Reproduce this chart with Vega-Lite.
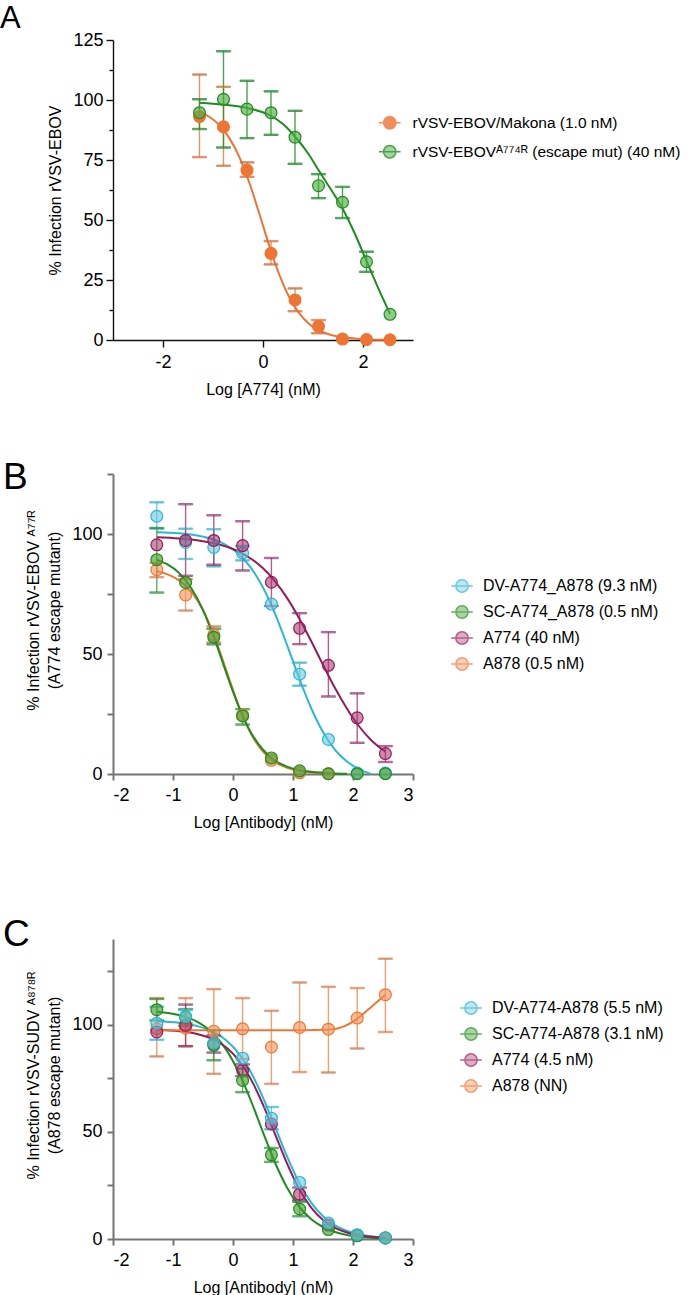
{
  "$schema": "https://vega.github.io/schema/vega-lite/v6.json",
  "padding": {"top": 3, "left": 0, "right": 2, "bottom": 2},
  "background": "white",
  "config": {
    "font": "Liberation Sans",
    "view": {"stroke": null},
    "axis": {"grid": false, "labelFontSize": 18, "titleFontSize": 16, "titleFontWeight": "normal", "labelColor": "black", "titleColor": "black", "labelFont": "Liberation Sans", "titleFont": "Liberation Sans"},
    "legend": {"labelFontSize": 16, "labelColor": "black", "labelFont": "Liberation Sans", "labelLimit": 400},
    "title": {"font": "Liberation Sans", "fontWeight": "normal", "color": "black"}
  },
  "datasets": {
    "ptsA": [
      {"s": "rVSV-EBOV/Makona (1.0 nM)", "x": -1.27, "y": 93.1, "lo": 76.2, "hi": 110.6},
      {"s": "rVSV-EBOV/Makona (1.0 nM)", "x": -0.79, "y": 88.8, "lo": 72.6, "hi": 105.5},
      {"s": "rVSV-EBOV/Makona (1.0 nM)", "x": -0.32, "y": 70.8, "lo": 68.0, "hi": 74.0},
      {"s": "rVSV-EBOV/Makona (1.0 nM)", "x": 0.16, "y": 36.1, "lo": 31.5, "hi": 41.2},
      {"s": "rVSV-EBOV/Makona (1.0 nM)", "x": 0.64, "y": 16.7, "lo": 12.0, "hi": 21.5},
      {"s": "rVSV-EBOV/Makona (1.0 nM)", "x": 1.11, "y": 5.7, "lo": 2.8, "hi": 8.3},
      {"s": "rVSV-EBOV/Makona (1.0 nM)", "x": 1.59, "y": 0.4, "lo": null, "hi": null},
      {"s": "rVSV-EBOV/Makona (1.0 nM)", "x": 2.07, "y": 0.2, "lo": null, "hi": null},
      {"s": "rVSV-EBOV/Makona (1.0 nM)", "x": 2.54, "y": 0.1, "lo": null, "hi": null},
      {"s": "rVSV-EBOVᴬ⁷⁷⁴ᴿ (escape mut) (40 nM)", "x": -1.27, "y": 94.7, "lo": 87.9, "hi": 100.3},
      {"s": "rVSV-EBOVᴬ⁷⁷⁴ᴿ (escape mut) (40 nM)", "x": -0.79, "y": 100.3, "lo": 80.2, "hi": 120.3},
      {"s": "rVSV-EBOVᴬ⁷⁷⁴ᴿ (escape mut) (40 nM)", "x": -0.32, "y": 96.2, "lo": 84.1, "hi": 108.0},
      {"s": "rVSV-EBOVᴬ⁷⁷⁴ᴿ (escape mut) (40 nM)", "x": 0.16, "y": 94.7, "lo": 85.5, "hi": 103.6},
      {"s": "rVSV-EBOVᴬ⁷⁷⁴ᴿ (escape mut) (40 nM)", "x": 0.64, "y": 84.5, "lo": 73.4, "hi": 95.5},
      {"s": "rVSV-EBOVᴬ⁷⁷⁴ᴿ (escape mut) (40 nM)", "x": 1.11, "y": 64.3, "lo": 59.1, "hi": 69.1},
      {"s": "rVSV-EBOVᴬ⁷⁷⁴ᴿ (escape mut) (40 nM)", "x": 1.59, "y": 57.4, "lo": 50.8, "hi": 63.8},
      {"s": "rVSV-EBOVᴬ⁷⁷⁴ᴿ (escape mut) (40 nM)", "x": 2.07, "y": 32.6, "lo": 28.4, "hi": 36.8},
      {"s": "rVSV-EBOVᴬ⁷⁷⁴ᴿ (escape mut) (40 nM)", "x": 2.54, "y": 10.7, "lo": null, "hi": null}
    ],
    "crvA": [
      {"s": "rVSV-EBOV/Makona (1.0 nM)", "x": -1.27, "y": 95.0},
      {"s": "rVSV-EBOV/Makona (1.0 nM)", "x": -1.07, "y": 92.9},
      {"s": "rVSV-EBOV/Makona (1.0 nM)", "x": -0.87, "y": 89.5},
      {"s": "rVSV-EBOV/Makona (1.0 nM)", "x": -0.67, "y": 84.0},
      {"s": "rVSV-EBOV/Makona (1.0 nM)", "x": -0.47, "y": 76.1},
      {"s": "rVSV-EBOV/Makona (1.0 nM)", "x": -0.27, "y": 65.3},
      {"s": "rVSV-EBOV/Makona (1.0 nM)", "x": -0.07, "y": 52.4},
      {"s": "rVSV-EBOV/Makona (1.0 nM)", "x": 0.13, "y": 39.0},
      {"s": "rVSV-EBOV/Makona (1.0 nM)", "x": 0.33, "y": 27.0},
      {"s": "rVSV-EBOV/Makona (1.0 nM)", "x": 0.53, "y": 17.6},
      {"s": "rVSV-EBOV/Makona (1.0 nM)", "x": 0.73, "y": 11.0},
      {"s": "rVSV-EBOV/Makona (1.0 nM)", "x": 0.93, "y": 6.6},
      {"s": "rVSV-EBOV/Makona (1.0 nM)", "x": 1.13, "y": 3.9},
      {"s": "rVSV-EBOV/Makona (1.0 nM)", "x": 1.33, "y": 2.3},
      {"s": "rVSV-EBOV/Makona (1.0 nM)", "x": 1.53, "y": 1.3},
      {"s": "rVSV-EBOV/Makona (1.0 nM)", "x": 1.73, "y": 0.8},
      {"s": "rVSV-EBOV/Makona (1.0 nM)", "x": 1.93, "y": 0.4},
      {"s": "rVSV-EBOV/Makona (1.0 nM)", "x": 2.13, "y": 0.2},
      {"s": "rVSV-EBOV/Makona (1.0 nM)", "x": 2.33, "y": 0.1},
      {"s": "rVSV-EBOV/Makona (1.0 nM)", "x": 2.54, "y": 0.1},
      {"s": "rVSV-EBOVᴬ⁷⁷⁴ᴿ (escape mut) (40 nM)", "x": -1.27, "y": 98.9},
      {"s": "rVSV-EBOVᴬ⁷⁷⁴ᴿ (escape mut) (40 nM)", "x": -0.8, "y": 98.1},
      {"s": "rVSV-EBOVᴬ⁷⁷⁴ᴿ (escape mut) (40 nM)", "x": -0.3, "y": 96.6},
      {"s": "rVSV-EBOVᴬ⁷⁷⁴ᴿ (escape mut) (40 nM)", "x": 0.1, "y": 94.0},
      {"s": "rVSV-EBOVᴬ⁷⁷⁴ᴿ (escape mut) (40 nM)", "x": 0.4, "y": 90.0},
      {"s": "rVSV-EBOVᴬ⁷⁷⁴ᴿ (escape mut) (40 nM)", "x": 0.64, "y": 84.8},
      {"s": "rVSV-EBOVᴬ⁷⁷⁴ᴿ (escape mut) (40 nM)", "x": 0.9, "y": 77.8},
      {"s": "rVSV-EBOVᴬ⁷⁷⁴ᴿ (escape mut) (40 nM)", "x": 1.11, "y": 70.8},
      {"s": "rVSV-EBOVᴬ⁷⁷⁴ᴿ (escape mut) (40 nM)", "x": 1.35, "y": 63.0},
      {"s": "rVSV-EBOVᴬ⁷⁷⁴ᴿ (escape mut) (40 nM)", "x": 1.59, "y": 54.8},
      {"s": "rVSV-EBOVᴬ⁷⁷⁴ᴿ (escape mut) (40 nM)", "x": 1.83, "y": 44.6},
      {"s": "rVSV-EBOVᴬ⁷⁷⁴ᴿ (escape mut) (40 nM)", "x": 2.07, "y": 33.0},
      {"s": "rVSV-EBOVᴬ⁷⁷⁴ᴿ (escape mut) (40 nM)", "x": 2.3, "y": 21.8},
      {"s": "rVSV-EBOVᴬ⁷⁷⁴ᴿ (escape mut) (40 nM)", "x": 2.54, "y": 10.9}
    ],
    "ptsB": [
      {"s": "DV-A774_A878 (9.3 nM)", "x": -1.27, "y": 107.4, "lo": 102.3, "hi": 113.2},
      {"s": "DV-A774_A878 (9.3 nM)", "x": -0.79, "y": 96.5, "lo": 89.6, "hi": 102.2},
      {"s": "DV-A774_A878 (9.3 nM)", "x": -0.32, "y": 94.4, "lo": 86.5, "hi": 102.0},
      {"s": "DV-A774_A878 (9.3 nM)", "x": 0.16, "y": 92.1, "lo": 89.0, "hi": 95.0},
      {"s": "DV-A774_A878 (9.3 nM)", "x": 0.64, "y": 70.8, "lo": null, "hi": null},
      {"s": "DV-A774_A878 (9.3 nM)", "x": 1.11, "y": 41.6, "lo": 36.8, "hi": 46.4},
      {"s": "DV-A774_A878 (9.3 nM)", "x": 1.59, "y": 14.4, "lo": null, "hi": null},
      {"s": "DV-A774_A878 (9.3 nM)", "x": 2.07, "y": 0.4, "lo": null, "hi": null},
      {"s": "DV-A774_A878 (9.3 nM)", "x": 2.54, "y": 0.4, "lo": null, "hi": null},
      {"s": "A878 (0.5 nM)", "x": -1.27, "y": 85.1, "lo": 82.0, "hi": 88.0},
      {"s": "A878 (0.5 nM)", "x": -0.79, "y": 74.6, "lo": 68.1, "hi": 81.2},
      {"s": "A878 (0.5 nM)", "x": -0.32, "y": 58.0, "lo": 54.8, "hi": 61.5},
      {"s": "A878 (0.5 nM)", "x": 0.16, "y": 24.5, "lo": null, "hi": null},
      {"s": "A878 (0.5 nM)", "x": 0.64, "y": 5.7, "lo": null, "hi": null},
      {"s": "A878 (0.5 nM)", "x": 1.11, "y": 0.5, "lo": null, "hi": null},
      {"s": "A878 (0.5 nM)", "x": 1.59, "y": 0.1, "lo": null, "hi": null},
      {"s": "SC-A774_A878 (0.5 nM)", "x": -1.27, "y": 89.3, "lo": 75.6, "hi": 102.5},
      {"s": "SC-A774_A878 (0.5 nM)", "x": -0.79, "y": 79.8, "lo": null, "hi": null},
      {"s": "SC-A774_A878 (0.5 nM)", "x": -0.32, "y": 57.0, "lo": 54.0, "hi": 60.5},
      {"s": "SC-A774_A878 (0.5 nM)", "x": 0.16, "y": 24.2, "lo": 20.6, "hi": 27.0},
      {"s": "SC-A774_A878 (0.5 nM)", "x": 0.64, "y": 6.7, "lo": null, "hi": null},
      {"s": "SC-A774_A878 (0.5 nM)", "x": 1.11, "y": 1.3, "lo": null, "hi": null},
      {"s": "SC-A774_A878 (0.5 nM)", "x": 1.59, "y": 0.1, "lo": null, "hi": null},
      {"s": "SC-A774_A878 (0.5 nM)", "x": 2.07, "y": 0.1, "lo": null, "hi": null},
      {"s": "SC-A774_A878 (0.5 nM)", "x": 2.54, "y": 0.1, "lo": null, "hi": null},
      {"s": "A774 (40 nM)", "x": -1.27, "y": 95.5, "lo": null, "hi": null},
      {"s": "A774 (40 nM)", "x": -0.79, "y": 97.3, "lo": 82.6, "hi": 112.4},
      {"s": "A774 (40 nM)", "x": -0.32, "y": 97.3, "lo": 87.2, "hi": 107.8},
      {"s": "A774 (40 nM)", "x": 0.16, "y": 95.2, "lo": 84.8, "hi": 105.3},
      {"s": "A774 (40 nM)", "x": 0.64, "y": 79.9, "lo": 70.0, "hi": 90.0},
      {"s": "A774 (40 nM)", "x": 1.11, "y": 60.7, "lo": 54.1, "hi": 67.0},
      {"s": "A774 (40 nM)", "x": 1.59, "y": 45.3, "lo": 32.3, "hi": 59.1},
      {"s": "A774 (40 nM)", "x": 2.07, "y": 23.4, "lo": 13.0, "hi": 33.6},
      {"s": "A774 (40 nM)", "x": 2.54, "y": 8.5, "lo": 5.0, "hi": 11.6}
    ],
    "crvB": [
      {"s": "DV-A774_A878 (9.3 nM)", "x": -1.27, "y": 100.7},
      {"s": "DV-A774_A878 (9.3 nM)", "x": -0.9, "y": 100.3},
      {"s": "DV-A774_A878 (9.3 nM)", "x": -0.5, "y": 98.9},
      {"s": "DV-A774_A878 (9.3 nM)", "x": -0.2, "y": 96.5},
      {"s": "DV-A774_A878 (9.3 nM)", "x": 0.1, "y": 91.5},
      {"s": "DV-A774_A878 (9.3 nM)", "x": 0.3, "y": 85.9},
      {"s": "DV-A774_A878 (9.3 nM)", "x": 0.5, "y": 77.7},
      {"s": "DV-A774_A878 (9.3 nM)", "x": 0.7, "y": 66.8},
      {"s": "DV-A774_A878 (9.3 nM)", "x": 0.9, "y": 53.8},
      {"s": "DV-A774_A878 (9.3 nM)", "x": 1.1, "y": 40.1},
      {"s": "DV-A774_A878 (9.3 nM)", "x": 1.3, "y": 27.6},
      {"s": "DV-A774_A878 (9.3 nM)", "x": 1.5, "y": 17.5},
      {"s": "DV-A774_A878 (9.3 nM)", "x": 1.7, "y": 10.1},
      {"s": "DV-A774_A878 (9.3 nM)", "x": 1.9, "y": 5.2},
      {"s": "DV-A774_A878 (9.3 nM)", "x": 2.1, "y": 2.0},
      {"s": "DV-A774_A878 (9.3 nM)", "x": 2.3, "y": 0.0},
      {"s": "A878 (0.5 nM)", "x": -1.27, "y": 84.5},
      {"s": "A878 (0.5 nM)", "x": -1.1, "y": 83.3},
      {"s": "A878 (0.5 nM)", "x": -0.9, "y": 80.7},
      {"s": "A878 (0.5 nM)", "x": -0.7, "y": 76.1},
      {"s": "A878 (0.5 nM)", "x": -0.5, "y": 68.3},
      {"s": "A878 (0.5 nM)", "x": -0.3, "y": 56.6},
      {"s": "A878 (0.5 nM)", "x": -0.1, "y": 42.3},
      {"s": "A878 (0.5 nM)", "x": 0.1, "y": 28.1},
      {"s": "A878 (0.5 nM)", "x": 0.3, "y": 16.8},
      {"s": "A878 (0.5 nM)", "x": 0.5, "y": 9.3},
      {"s": "A878 (0.5 nM)", "x": 0.7, "y": 4.9},
      {"s": "A878 (0.5 nM)", "x": 0.9, "y": 2.6},
      {"s": "A878 (0.5 nM)", "x": 1.1, "y": 1.3},
      {"s": "A878 (0.5 nM)", "x": 1.3, "y": 0.6},
      {"s": "A878 (0.5 nM)", "x": 1.5, "y": 0.3},
      {"s": "A878 (0.5 nM)", "x": 1.7, "y": 0.1},
      {"s": "SC-A774_A878 (0.5 nM)", "x": -1.27, "y": 89.3},
      {"s": "SC-A774_A878 (0.5 nM)", "x": -1.1, "y": 87.4},
      {"s": "SC-A774_A878 (0.5 nM)", "x": -0.9, "y": 83.8},
      {"s": "SC-A774_A878 (0.5 nM)", "x": -0.7, "y": 77.6},
      {"s": "SC-A774_A878 (0.5 nM)", "x": -0.5, "y": 68.3},
      {"s": "SC-A774_A878 (0.5 nM)", "x": -0.3, "y": 55.7},
      {"s": "SC-A774_A878 (0.5 nM)", "x": -0.1, "y": 41.3},
      {"s": "SC-A774_A878 (0.5 nM)", "x": 0.1, "y": 27.8},
      {"s": "SC-A774_A878 (0.5 nM)", "x": 0.3, "y": 17.2},
      {"s": "SC-A774_A878 (0.5 nM)", "x": 0.5, "y": 10.1},
      {"s": "SC-A774_A878 (0.5 nM)", "x": 0.7, "y": 5.6},
      {"s": "SC-A774_A878 (0.5 nM)", "x": 0.9, "y": 3.1},
      {"s": "SC-A774_A878 (0.5 nM)", "x": 1.1, "y": 1.7},
      {"s": "SC-A774_A878 (0.5 nM)", "x": 1.3, "y": 0.9},
      {"s": "SC-A774_A878 (0.5 nM)", "x": 1.5, "y": 0.5},
      {"s": "SC-A774_A878 (0.5 nM)", "x": 1.7, "y": 0.2},
      {"s": "SC-A774_A878 (0.5 nM)", "x": 1.9, "y": 0.1},
      {"s": "A774 (40 nM)", "x": -1.27, "y": 98.6},
      {"s": "A774 (40 nM)", "x": -0.9, "y": 98.1},
      {"s": "A774 (40 nM)", "x": -0.5, "y": 97.0},
      {"s": "A774 (40 nM)", "x": -0.2, "y": 95.4},
      {"s": "A774 (40 nM)", "x": 0.1, "y": 92.6},
      {"s": "A774 (40 nM)", "x": 0.3, "y": 89.7},
      {"s": "A774 (40 nM)", "x": 0.5, "y": 85.7},
      {"s": "A774 (40 nM)", "x": 0.7, "y": 80.3},
      {"s": "A774 (40 nM)", "x": 0.9, "y": 73.4},
      {"s": "A774 (40 nM)", "x": 1.1, "y": 65.0},
      {"s": "A774 (40 nM)", "x": 1.3, "y": 55.5},
      {"s": "A774 (40 nM)", "x": 1.5, "y": 45.5},
      {"s": "A774 (40 nM)", "x": 1.7, "y": 35.8},
      {"s": "A774 (40 nM)", "x": 1.9, "y": 27.2},
      {"s": "A774 (40 nM)", "x": 2.1, "y": 19.9},
      {"s": "A774 (40 nM)", "x": 2.3, "y": 14.2},
      {"s": "A774 (40 nM)", "x": 2.54, "y": 9.3}
    ],
    "ptsC": [
      {"s": "A878 (NN)", "x": -1.27, "y": 98.1, "lo": 85.2, "hi": 112.4},
      {"s": "A878 (NN)", "x": -0.79, "y": 98.4, "lo": 89.9, "hi": 112.4},
      {"s": "A878 (NN)", "x": -0.32, "y": 97.0, "lo": 77.1, "hi": 116.6},
      {"s": "A878 (NN)", "x": 0.16, "y": 98.1, "lo": 84.0, "hi": 112.4},
      {"s": "A878 (NN)", "x": 0.64, "y": 89.6, "lo": 72.4, "hi": 106.5},
      {"s": "A878 (NN)", "x": 1.11, "y": 98.7, "lo": 77.9, "hi": 119.7},
      {"s": "A878 (NN)", "x": 1.59, "y": 97.9, "lo": 77.7, "hi": 117.7},
      {"s": "A878 (NN)", "x": 2.07, "y": 103.1, "lo": 88.9, "hi": 117.1},
      {"s": "A878 (NN)", "x": 2.54, "y": 114.0, "lo": 96.6, "hi": 130.8},
      {"s": "A774 (4.5 nM)", "x": -1.27, "y": 96.6, "lo": null, "hi": null},
      {"s": "A774 (4.5 nM)", "x": -0.79, "y": 99.7, "lo": 90.0, "hi": 109.4},
      {"s": "A774 (4.5 nM)", "x": -0.32, "y": 91.0, "lo": 87.0, "hi": 95.0},
      {"s": "A774 (4.5 nM)", "x": 0.16, "y": 78.7, "lo": 76.0, "hi": 81.5},
      {"s": "A774 (4.5 nM)", "x": 0.64, "y": 53.7, "lo": null, "hi": null},
      {"s": "A774 (4.5 nM)", "x": 1.11, "y": 20.9, "lo": 18.0, "hi": 24.0},
      {"s": "A774 (4.5 nM)", "x": 1.59, "y": 6.5, "lo": null, "hi": null},
      {"s": "A774 (4.5 nM)", "x": 2.07, "y": 1.8, "lo": null, "hi": null},
      {"s": "A774 (4.5 nM)", "x": 2.54, "y": 0.5, "lo": null, "hi": null},
      {"s": "SC-A774-A878 (3.1 nM)", "x": -1.27, "y": 107.0, "lo": 102.0, "hi": 112.0},
      {"s": "SC-A774-A878 (3.1 nM)", "x": -0.79, "y": 103.5, "lo": 99.5, "hi": 107.3},
      {"s": "SC-A774-A878 (3.1 nM)", "x": -0.32, "y": 90.4, "lo": 83.4, "hi": 97.4},
      {"s": "SC-A774-A878 (3.1 nM)", "x": 0.16, "y": 74.0, "lo": 68.5, "hi": 79.5},
      {"s": "SC-A774-A878 (3.1 nM)", "x": 0.64, "y": 39.3, "lo": 36.0, "hi": 42.5},
      {"s": "SC-A774-A878 (3.1 nM)", "x": 1.11, "y": 14.0, "lo": 10.6, "hi": 17.4},
      {"s": "SC-A774-A878 (3.1 nM)", "x": 1.59, "y": 4.4, "lo": null, "hi": null},
      {"s": "SC-A774-A878 (3.1 nM)", "x": 2.07, "y": 1.5, "lo": null, "hi": null},
      {"s": "SC-A774-A878 (3.1 nM)", "x": 2.54, "y": 0.5, "lo": null, "hi": null},
      {"s": "DV-A774-A878 (5.5 nM)", "x": -1.27, "y": 100.7, "lo": 93.0, "hi": 108.4},
      {"s": "DV-A774-A878 (5.5 nM)", "x": -0.79, "y": 103.8, "lo": 100.8, "hi": 106.8},
      {"s": "DV-A774-A878 (5.5 nM)", "x": -0.32, "y": 91.4, "lo": null, "hi": null},
      {"s": "DV-A774-A878 (5.5 nM)", "x": 0.16, "y": 84.4, "lo": null, "hi": null},
      {"s": "DV-A774-A878 (5.5 nM)", "x": 0.64, "y": 56.4, "lo": 51.2, "hi": 61.6},
      {"s": "DV-A774-A878 (5.5 nM)", "x": 1.11, "y": 26.4, "lo": null, "hi": null},
      {"s": "DV-A774-A878 (5.5 nM)", "x": 1.59, "y": 7.5, "lo": null, "hi": null},
      {"s": "DV-A774-A878 (5.5 nM)", "x": 2.07, "y": 2.0, "lo": null, "hi": null},
      {"s": "DV-A774-A878 (5.5 nM)", "x": 2.54, "y": 0.5, "lo": null, "hi": null}
    ],
    "crvC": [
      {"s": "DV-A774-A878 (5.5 nM)", "x": -1.27, "y": 101.6},
      {"s": "DV-A774-A878 (5.5 nM)", "x": -0.9, "y": 100.9},
      {"s": "DV-A774-A878 (5.5 nM)", "x": -0.6, "y": 99.4},
      {"s": "DV-A774-A878 (5.5 nM)", "x": -0.3, "y": 96.3},
      {"s": "DV-A774-A878 (5.5 nM)", "x": -0.1, "y": 92.4},
      {"s": "DV-A774-A878 (5.5 nM)", "x": 0.1, "y": 86.4},
      {"s": "DV-A774-A878 (5.5 nM)", "x": 0.3, "y": 77.7},
      {"s": "DV-A774-A878 (5.5 nM)", "x": 0.5, "y": 66.0},
      {"s": "DV-A774-A878 (5.5 nM)", "x": 0.7, "y": 52.4},
      {"s": "DV-A774-A878 (5.5 nM)", "x": 0.9, "y": 38.6},
      {"s": "DV-A774-A878 (5.5 nM)", "x": 1.1, "y": 26.4},
      {"s": "DV-A774-A878 (5.5 nM)", "x": 1.3, "y": 17.1},
      {"s": "DV-A774-A878 (5.5 nM)", "x": 1.5, "y": 10.6},
      {"s": "DV-A774-A878 (5.5 nM)", "x": 1.7, "y": 6.4},
      {"s": "DV-A774-A878 (5.5 nM)", "x": 1.9, "y": 3.8},
      {"s": "DV-A774-A878 (5.5 nM)", "x": 2.1, "y": 2.2},
      {"s": "DV-A774-A878 (5.5 nM)", "x": 2.3, "y": 1.3},
      {"s": "DV-A774-A878 (5.5 nM)", "x": 2.54, "y": 0.7},
      {"s": "SC-A774-A878 (3.1 nM)", "x": -1.27, "y": 106.1},
      {"s": "SC-A774-A878 (3.1 nM)", "x": -0.9, "y": 104.5},
      {"s": "SC-A774-A878 (3.1 nM)", "x": -0.6, "y": 101.4},
      {"s": "SC-A774-A878 (3.1 nM)", "x": -0.3, "y": 95.0},
      {"s": "SC-A774-A878 (3.1 nM)", "x": -0.1, "y": 87.8},
      {"s": "SC-A774-A878 (3.1 nM)", "x": 0.1, "y": 77.5},
      {"s": "SC-A774-A878 (3.1 nM)", "x": 0.3, "y": 64.4},
      {"s": "SC-A774-A878 (3.1 nM)", "x": 0.5, "y": 49.8},
      {"s": "SC-A774-A878 (3.1 nM)", "x": 0.7, "y": 35.7},
      {"s": "SC-A774-A878 (3.1 nM)", "x": 0.9, "y": 24.0},
      {"s": "SC-A774-A878 (3.1 nM)", "x": 1.1, "y": 15.2},
      {"s": "SC-A774-A878 (3.1 nM)", "x": 1.3, "y": 9.3},
      {"s": "SC-A774-A878 (3.1 nM)", "x": 1.5, "y": 5.6},
      {"s": "SC-A774-A878 (3.1 nM)", "x": 1.7, "y": 3.3},
      {"s": "SC-A774-A878 (3.1 nM)", "x": 1.9, "y": 1.9},
      {"s": "SC-A774-A878 (3.1 nM)", "x": 2.1, "y": 1.1},
      {"s": "SC-A774-A878 (3.1 nM)", "x": 2.3, "y": 0.6},
      {"s": "SC-A774-A878 (3.1 nM)", "x": 2.54, "y": 0.3},
      {"s": "A774 (4.5 nM)", "x": -1.27, "y": 97.7},
      {"s": "A774 (4.5 nM)", "x": -0.9, "y": 97.0},
      {"s": "A774 (4.5 nM)", "x": -0.6, "y": 95.7},
      {"s": "A774 (4.5 nM)", "x": -0.3, "y": 92.8},
      {"s": "A774 (4.5 nM)", "x": -0.1, "y": 89.1},
      {"s": "A774 (4.5 nM)", "x": 0.1, "y": 83.2},
      {"s": "A774 (4.5 nM)", "x": 0.3, "y": 74.5},
      {"s": "A774 (4.5 nM)", "x": 0.5, "y": 62.7},
      {"s": "A774 (4.5 nM)", "x": 0.7, "y": 49.0},
      {"s": "A774 (4.5 nM)", "x": 0.9, "y": 35.3},
      {"s": "A774 (4.5 nM)", "x": 1.1, "y": 23.5},
      {"s": "A774 (4.5 nM)", "x": 1.3, "y": 14.8},
      {"s": "A774 (4.5 nM)", "x": 1.5, "y": 8.9},
      {"s": "A774 (4.5 nM)", "x": 1.7, "y": 5.2},
      {"s": "A774 (4.5 nM)", "x": 1.9, "y": 3.0},
      {"s": "A774 (4.5 nM)", "x": 2.1, "y": 1.7},
      {"s": "A774 (4.5 nM)", "x": 2.3, "y": 1.0},
      {"s": "A774 (4.5 nM)", "x": 2.54, "y": 0.5},
      {"s": "A878 (NN)", "x": -1.27, "y": 97.4},
      {"s": "A878 (NN)", "x": -0.5, "y": 97.4},
      {"s": "A878 (NN)", "x": 0.5, "y": 97.4},
      {"s": "A878 (NN)", "x": 1.2, "y": 97.4},
      {"s": "A878 (NN)", "x": 1.5, "y": 97.6},
      {"s": "A878 (NN)", "x": 1.7, "y": 98.0},
      {"s": "A878 (NN)", "x": 1.85, "y": 99.2},
      {"s": "A878 (NN)", "x": 2.0, "y": 101.4},
      {"s": "A878 (NN)", "x": 2.15, "y": 104.6},
      {"s": "A878 (NN)", "x": 2.3, "y": 108.2},
      {"s": "A878 (NN)", "x": 2.42, "y": 111.1},
      {"s": "A878 (NN)", "x": 2.54, "y": 114.0}
    ]
  },
  "resolve": {"scale": {"x": "independent", "y": "independent", "fill": "independent", "stroke": "independent"}, "legend": {"fill": "independent", "stroke": "independent"}},
  "spacing": 62,
  "vconcat": [
    {
      "width": 300, "height": 300,
      "title": {"text": "A", "anchor": "start", "frame": "group", "fontSize": 31, "baseline": "alphabetic", "offset": -28, "dx": -113},
      "encoding": {
        "x": {"field": "x", "type": "quantitative", "scale": {"domain": [-3, 3], "nice": false},
          "axis": {"values": [-2, 0, 2], "labelExpr": "toString(datum.value)", "title": "Log [A774] (nM)", "domainColor": "#111", "tickColor": "#111", "domainWidth": 1.4, "tickWidth": 1.4, "tickSize": 7, "labelPadding": 6, "titlePadding": 10}},
        "y": {"field": "y", "type": "quantitative", "scale": {"domain": [0, 125], "nice": false},
          "axis": {"values": [0, 12.5, 25, 37.5, 50, 62.5, 75, 87.5, 100, 112.5, 125], "labelExpr": "datum.value % 25 == 0 ? datum.label : ''", "title": "% Infection rVSV-EBOV", "domainColor": "#111", "tickColor": "#111", "domainWidth": 1.4, "tickWidth": 1.4, "tickSize": {"condition": {"test": "datum.value % 25 == 0", "value": 7}, "value": 4}, "labelPadding": 3, "titlePadding": 9}}
      },
      "layer": [
        {"data": {"name": "crvA"}, "mark": {"type": "line", "interpolate": "monotone", "strokeWidth": 2},
          "encoding": {"stroke": {"field": "s", "type": "nominal", "scale": {"domain": ["rVSV-EBOV/Makona (1.0 nM)", "rVSV-EBOVᴬ⁷⁷⁴ᴿ (escape mut) (40 nM)"], "range": ["#ED7433", "#1E8C1E"]}}}},
        {"data": {"name": "ptsA"}, "mark": {"type": "rule", "strokeWidth": 1.4, "opacity": 0.8},
          "encoding": {"y": {"field": "lo", "type": "quantitative"}, "y2": {"field": "hi"}, "stroke": {"field": "s", "type": "nominal"}}},
        {"data": {"name": "ptsA"}, "mark": {"type": "tick", "orient": "horizontal", "size": 14, "thickness": 1.4, "opacity": 0.8},
          "encoding": {"y": {"field": "lo", "type": "quantitative"}, "stroke": {"field": "s", "type": "nominal"}}},
        {"data": {"name": "ptsA"}, "mark": {"type": "tick", "orient": "horizontal", "size": 14, "thickness": 1.4, "opacity": 0.8},
          "encoding": {"y": {"field": "hi", "type": "quantitative"}, "stroke": {"field": "s", "type": "nominal"}}},
        {"data": {"name": "ptsA"}, "mark": {"type": "point", "filled": true, "shape": "circle", "size": 140, "strokeWidth": 1.2, "opacity": 1},
          "encoding": {
            "fill": {"field": "s", "type": "nominal", "scale": {"domain": ["rVSV-EBOV/Makona (1.0 nM)", "rVSV-EBOVᴬ⁷⁷⁴ᴿ (escape mut) (40 nM)"], "range": ["#ED7433", "rgba(80,175,70,0.65)"]},
              "legend": {"title": null, "orient": "none", "legendX": 269, "legendY": 75, "padding": 0, "symbolType": "M-1.75,0L1.75,0M1,0A1,1,0,1,1,-1,0A1,1,0,1,1,1,0Z", "symbolSize": 152, "symbolStrokeWidth": 1.5, "labelOffset": 15, "rowPadding": 10, "labelFontSize": 15.5}},
            "stroke": {"field": "s", "type": "nominal",
              "legend": {"title": null, "orient": "none", "legendX": 269, "legendY": 75, "padding": 0, "symbolType": "M-1.75,0L1.75,0M1,0A1,1,0,1,1,-1,0A1,1,0,1,1,1,0Z", "symbolSize": 152, "symbolStrokeWidth": 1.5, "labelOffset": 15, "rowPadding": 10, "labelFontSize": 15.5}}
          }}
      ]
    },
    {
      "resolve": {"scale": {"x": "independent", "y": "independent", "fill": "independent", "stroke": "independent"}, "legend": {"fill": "independent", "stroke": "independent"}},
      "spacing": 86,
      "vconcat": [
        {
          "width": 300, "height": 300,
          "title": {"text": "B", "anchor": "start", "frame": "group", "fontSize": 37, "baseline": "alphabetic", "offset": -53, "dx": -110},
          "encoding": {
            "x": {"field": "x", "type": "quantitative", "scale": {"domain": [-2, 3], "nice": false},
              "axis": {"values": [-2, -1, 0, 1, 2, 3], "labelExpr": "toString(datum.value)", "title": "Log [Antibody] (nM)", "domainColor": "#757575", "tickColor": "#757575", "domainWidth": 2, "tickWidth": 2, "tickSize": 6, "labelPadding": 6, "titlePadding": 10}},
            "y": {"field": "y", "type": "quantitative", "scale": {"domain": [0, 125], "nice": false},
              "axis": {"values": [0, 25, 50, 75, 100, 125], "labelExpr": "datum.value % 50 == 0 ? datum.label : ''", "title": ["% Infection rVSV-EBOV ᴬ⁷⁷ᴿ", "(A774 escape mutant)"], "titleLineHeight": 21, "titleY": 136, "domainColor": "#757575", "tickColor": "#757575", "domainWidth": 2, "tickWidth": 2, "tickSize": 6, "labelPadding": 5, "titlePadding": 9}}
          },
          "layer": [
            {"data": {"name": "crvB"}, "mark": {"type": "line", "interpolate": "monotone", "strokeWidth": 2},
              "encoding": {"stroke": {"field": "s", "type": "nominal", "scale": {"domain": ["DV-A774_A878 (9.3 nM)", "SC-A774_A878 (0.5 nM)", "A774 (40 nM)", "A878 (0.5 nM)"], "range": ["#2BB7D2", "#1E8C1E", "#951C5A", "#EE7733"]}}}},
            {"data": {"name": "ptsB"}, "mark": {"type": "rule", "strokeWidth": 1.4, "opacity": 0.7},
              "encoding": {"y": {"field": "lo", "type": "quantitative"}, "y2": {"field": "hi"}, "stroke": {"field": "s", "type": "nominal"}}},
            {"data": {"name": "ptsB"}, "mark": {"type": "tick", "orient": "horizontal", "size": 14, "thickness": 1.4, "opacity": 0.7},
              "encoding": {"y": {"field": "lo", "type": "quantitative"}, "stroke": {"field": "s", "type": "nominal"}}},
            {"data": {"name": "ptsB"}, "mark": {"type": "tick", "orient": "horizontal", "size": 14, "thickness": 1.4, "opacity": 0.7},
              "encoding": {"y": {"field": "hi", "type": "quantitative"}, "stroke": {"field": "s", "type": "nominal"}}},
            {"data": {"name": "ptsB"}, "mark": {"type": "point", "filled": true, "shape": "circle", "size": 140, "strokeWidth": 1.2, "opacity": 1},
              "encoding": {
                "fill": {"field": "s", "type": "nominal", "scale": {"domain": ["DV-A774_A878 (9.3 nM)", "SC-A774_A878 (0.5 nM)", "A774 (40 nM)", "A878 (0.5 nM)"], "range": ["rgba(105,200,225,0.6)", "rgba(75,160,50,0.65)", "rgba(165,45,105,0.55)", "rgba(245,145,90,0.6)"]},
                  "legend": {"title": null, "orient": "none", "legendX": 341, "legendY": 104, "padding": 0, "symbolType": "M-1.75,0L1.75,0M1,0A1,1,0,1,1,-1,0A1,1,0,1,1,1,0Z", "symbolSize": 152, "symbolStrokeWidth": 1.5, "labelOffset": 13, "rowPadding": 6, "labelFontSize": 16}},
                "stroke": {"field": "s", "type": "nominal",
                  "legend": {"title": null, "orient": "none", "legendX": 341, "legendY": 104, "padding": 0, "symbolType": "M-1.75,0L1.75,0M1,0A1,1,0,1,1,-1,0A1,1,0,1,1,1,0Z", "symbolSize": 152, "symbolStrokeWidth": 1.5, "labelOffset": 13, "rowPadding": 6, "labelFontSize": 16}}
              }}
          ]
        },
        {
          "width": 300, "height": 300,
          "title": {"text": "C", "anchor": "start", "frame": "group", "fontSize": 37, "baseline": "alphabetic", "offset": -44, "dx": -110},
          "encoding": {
            "x": {"field": "x", "type": "quantitative", "scale": {"domain": [-2, 3], "nice": false},
              "axis": {"values": [-2, -1, 0, 1, 2, 3], "labelExpr": "toString(datum.value)", "title": "Log [Antibody] (nM)", "domainColor": "#757575", "tickColor": "#757575", "domainWidth": 2, "tickWidth": 2, "tickSize": 6, "labelPadding": 6, "titlePadding": 10}},
            "y": {"field": "y", "type": "quantitative", "scale": {"domain": [0, 140], "nice": false},
              "axis": {"values": [0, 25, 50, 75, 100, 125], "labelExpr": "datum.value % 50 == 0 ? datum.label : ''", "title": ["% Infection rVSV-SUDV ᴬ⁸⁷⁸ᴿ", "(A878 escape mutant)"], "titleLineHeight": 21, "titleY": 136, "domainColor": "#757575", "tickColor": "#757575", "domainWidth": 2, "tickWidth": 2, "tickSize": 6, "labelPadding": 5, "titlePadding": 9}}
          },
          "layer": [
            {"data": {"name": "crvC"}, "mark": {"type": "line", "interpolate": "monotone", "strokeWidth": 2},
              "encoding": {"stroke": {"field": "s", "type": "nominal", "scale": {"domain": ["DV-A774-A878 (5.5 nM)", "SC-A774-A878 (3.1 nM)", "A774 (4.5 nM)", "A878 (NN)"], "range": ["#2BB7D2", "#1E8C1E", "#951C5A", "#EE7733"]}}}},
            {"data": {"name": "ptsC"}, "mark": {"type": "rule", "strokeWidth": 1.4, "opacity": 0.7},
              "encoding": {"y": {"field": "lo", "type": "quantitative"}, "y2": {"field": "hi"}, "stroke": {"field": "s", "type": "nominal"}}},
            {"data": {"name": "ptsC"}, "mark": {"type": "tick", "orient": "horizontal", "size": 14, "thickness": 1.4, "opacity": 0.7},
              "encoding": {"y": {"field": "lo", "type": "quantitative"}, "stroke": {"field": "s", "type": "nominal"}}},
            {"data": {"name": "ptsC"}, "mark": {"type": "tick", "orient": "horizontal", "size": 14, "thickness": 1.4, "opacity": 0.7},
              "encoding": {"y": {"field": "hi", "type": "quantitative"}, "stroke": {"field": "s", "type": "nominal"}}},
            {"data": {"name": "ptsC"}, "mark": {"type": "point", "filled": true, "shape": "circle", "size": 140, "strokeWidth": 1.2, "opacity": 1},
              "encoding": {
                "fill": {"field": "s", "type": "nominal", "scale": {"domain": ["DV-A774-A878 (5.5 nM)", "SC-A774-A878 (3.1 nM)", "A774 (4.5 nM)", "A878 (NN)"], "range": ["rgba(105,200,225,0.6)", "rgba(75,160,50,0.65)", "rgba(165,45,105,0.55)", "rgba(245,145,90,0.6)"]},
                  "legend": {"title": null, "orient": "none", "legendX": 350, "legendY": 61, "padding": 0, "symbolType": "M-1.75,0L1.75,0M1,0A1,1,0,1,1,-1,0A1,1,0,1,1,1,0Z", "symbolSize": 152, "symbolStrokeWidth": 1.5, "labelOffset": 13, "rowPadding": 6, "labelFontSize": 16}},
                "stroke": {"field": "s", "type": "nominal",
                  "legend": {"title": null, "orient": "none", "legendX": 350, "legendY": 61, "padding": 0, "symbolType": "M-1.75,0L1.75,0M1,0A1,1,0,1,1,-1,0A1,1,0,1,1,1,0Z", "symbolSize": 152, "symbolStrokeWidth": 1.5, "labelOffset": 13, "rowPadding": 6, "labelFontSize": 16}}
              }}
          ]
        }
      ]
    }
  ]
}
